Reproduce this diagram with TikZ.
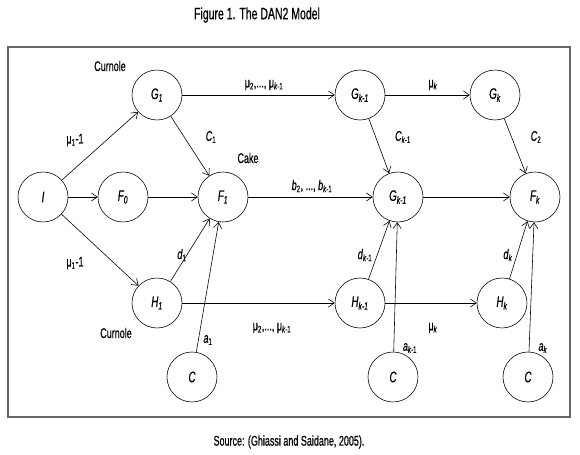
\documentclass[tikz,border=0pt]{standalone}
\usepackage{fontspec}
\setmainfont{Liberation Sans}[FakeStretch=0.64, FakeBold=0.6]
\usetikzlibrary{arrows.meta}

\newcommand{\idx}[1]{\textsubscript{#1}}

\begin{document}
\begin{tikzpicture}[x=0.03cm, y=-0.03cm, line width=0.5pt,
  unit/.style={circle, draw, minimum size=1.5cm, inner sep=0pt, font=\fontsize{13}{15}\selectfont\itshape},
  lbl/.style={font=\fontsize{12}{14}\selectfont, inner sep=1pt},
  arr/.style={-{Straight Barb[length=5pt, width=7pt]}}]
  \useasboundingbox (0,0) rectangle (580,455);

  \node[font=\fontsize{14}{16}\selectfont] (title) at (257,15) {Figure 1. The DAN2 Model};
  \draw[line width=1pt, black!60] (8,47) rectangle (570,417);
  \node[font=\fontsize{12}{14}\selectfont] (src) at (289,442) {Source: (Ghiassi and Saidane, 2005).};

  \coordinate (pI) at (43,197);
  \coordinate (pF0) at (123,197);
  \coordinate (pG1) at (157,95);
  \coordinate (pF1) at (223,197);
  \coordinate (pH1) at (157,303);
  \coordinate (pC1) at (192,377);
  \coordinate (pGk1) at (360,95);
  \coordinate (pGk) at (495,95);
  \coordinate (pMk1) at (398,197);
  \coordinate (pFk) at (535,197);
  \coordinate (pHk1) at (360,303);
  \coordinate (pHk) at (502,303);
  \coordinate (pCk1) at (393,377);
  \coordinate (pCk) at (528,377);

  \node[unit] (I) at (pI) {I};
  \node[unit] (F0) at (pF0) {F\idx{0}};
  \node[unit] (G1) at (pG1) {G\idx{1}};
  \node[unit] (F1) at (pF1) {F\idx{1}};
  \node[unit] (H1) at (pH1) {H\idx{1}};
  \node[unit] (C1) at (pC1) {C};
  \node[unit] (Gk1) at (pGk1) {G\idx{k-1}};
  \node[unit] (Gk) at (pGk) {G\idx{k}};
  \node[unit] (Mk1) at (pMk1) {G\idx{k-1}};
  \node[unit] (Fk) at (pFk) {F\idx{k}};
  \node[unit] (Hk1) at (pHk1) {H\idx{k-1}};
  \node[unit] (Hk) at (pHk) {H\idx{k}};
  \node[unit] (Ck1) at (pCk1) {C};
  \node[unit] (Ck) at (pCk) {C};

  \node[lbl] (cur1) at (110,66) {Curnole};
  \node[lbl] (cake) at (248,158) {Cake};
  \node[lbl] (cur2) at (116,333) {Curnole};

  \draw[arr] (I) -- (G1);
  \draw[arr] (I) -- (F0);
  \draw[arr] (I) -- (H1);
  \draw[arr] (F0) -- (F1);
  \draw[arr] (G1) -- (F1);
  \draw[arr] (G1) -- (Gk1);
  \draw[arr] (Gk1) -- (Gk);
  \draw[arr] (Gk1) -- (Mk1);
  \draw[arr] (Gk) -- (Fk);
  \draw[arr] (F1) -- (Mk1);
  \draw[arr] (Mk1) -- (Fk);
  \draw[arr] (H1) -- (F1);
  \draw[arr] (C1) -- (F1);
  \draw[arr] (H1) -- (Hk1);
  \draw[arr] (Hk1) -- (Hk);
  \draw[arr] (Hk1) -- (Mk1);
  \draw[arr] (Ck1) -- (Mk1);
  \draw[arr] (Hk) -- (Fk);
  \draw[arr] (Ck) -- (Fk);

  \node[lbl] (m1a) at (75,140) {μ\idx{1}-1};
  \node[lbl] (m1b) at (75,263) {μ\idx{1}-1};
  \node[lbl] (c1) at (211,137) {\textit{C}\idx{1}};
  \node[lbl] (mtop) at (264,85) {μ\idx{2},..., μ\idx{\textit{k}-1}};
  \node[lbl] (mktop) at (433,85) {μ\idx{\textit{k}}};
  \node[lbl] (ck1) at (403,137) {\textit{C}\idx{\textit{k}-1}};
  \node[lbl] (c2) at (536,137) {\textit{C}\idx{2}};
  \node[lbl] (bb) at (312,186) {\textit{b}\idx{2}, ..., \textit{b}\idx{\textit{k}-1}};
  \node[lbl] (d1) at (182,255) {\textit{d}\idx{1}};
  \node[lbl] (a1) at (208,340) {\textit{a}\idx{1}};
  \node[lbl] (mbot) at (272,328) {μ\idx{2},..., μ\idx{\textit{k}-1}};
  \node[lbl] (mkbot) at (433,328) {μ\idx{\textit{k}}};
  \node[lbl] (dk1) at (365,255) {\textit{d}\idx{\textit{k}-1}};
  \node[lbl] (ak1) at (410,348) {\textit{a}\idx{\textit{k}-1}};
  \node[lbl] (dk) at (508,255) {\textit{d}\idx{\textit{k}}};
  \node[lbl] (ak) at (543,348) {\textit{a}\idx{\textit{k}}};
\end{tikzpicture}
\end{document}
